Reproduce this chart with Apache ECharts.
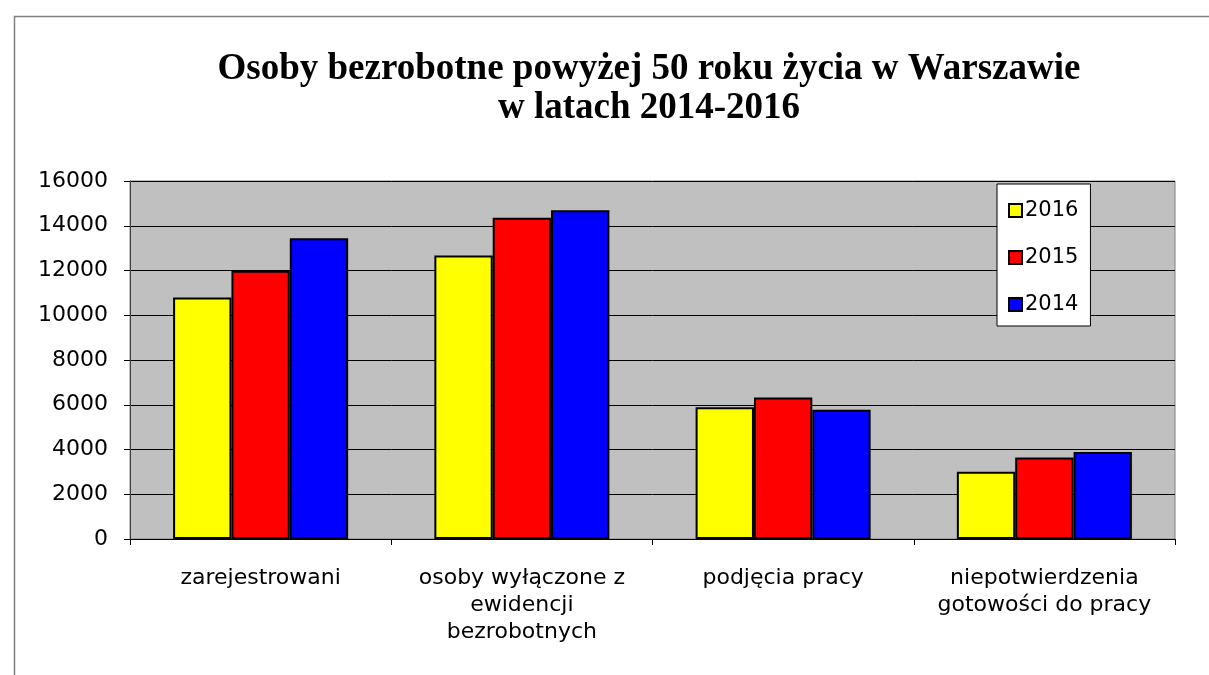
<!DOCTYPE html>
<html>
<head>
<meta charset="utf-8">
<script src="https://cdn.jsdelivr.net/npm/echarts@6/dist/echarts.min.js"></script>
<style>
  html, body { margin: 0; padding: 0; background: #fff; }
  #bezrobotniChart { width: 1209px; height: 675px; }
</style>
</head>
<body>
<div id="bezrobotniChart"></div>
<script>
// dane
const categories = [
  "zarejestrowani",
  "osoby wyłączone z\newidencji\nbezrobotnych",
  "podjęcia pracy",
  "niepotwierdzenia\ngotowości do pracy",
];
const years = ["2016", "2015", "2014"];
const values2016 = [10790, 12670, 5890, 3010];
const values2015 = [11990, 14360, 6320, 3640];
const values2014 = [13440, 14690, 5780, 3890];
const yTicks = [0, 2000, 4000, 6000, 8000, 10000, 12000, 14000, 16000];

const color = ["#FFFF00", "#FF0000", "#0000FF"];

let chart = echarts.init(document.getElementById("bezrobotniChart"));

const seriesValues = [values2016, values2015, values2014];
const series = years.map((name, index) => ({
  name,
  type: "bar",
  data: seriesValues[index],
  barGap: 0,
  barCategoryGap: "33%",
  itemStyle: {
    color: color[index],
    borderColor: "#000",
    borderWidth: 2,
  },
}));

const option = {
  animation: false,
  color,
  title: {
    text: "Osoby bezrobotne powyżej 50 roku życia w Warszawie\nw latach 2014-2016",
    left: 644,
    top: 45,
    textAlign: "center",
    textStyle: {
      fontFamily: "Liberation Serif",
      fontWeight: "bold",
      fontSize: 37,
      lineHeight: 39,
      color: "#000",
    },
  },
  legend: {
    orient: "vertical",
    left: 997,
    top: 184,
    itemWidth: 13,
    itemHeight: 13,
    itemGap: 26,
    icon: "rect",
    padding: [16, 12, 11, 11],
    backgroundColor: "#fff",
    borderColor: "#000",
    borderWidth: 1,
    itemStyle: {
      borderColor: "#000",
      borderWidth: 2,
    },
    textStyle: {
      fontFamily: "DejaVu Sans",
      fontSize: 21,
      color: "#000",
      padding: [0, 0, 0, -2],
    },
    data: years,
  },
  grid: {
    left: 130,
    right: 34,
    top: 181,
    bottom: 136,
    show: true,
    backgroundColor: "#C0C0C0",
    borderColor: "#808080",
    borderWidth: 1,
  },
  xAxis: {
    type: "category",
    data: categories,
    axisLine: { show: true, lineStyle: { color: "#000", width: 1 } },
    axisTick: { show: true, length: 6, lineStyle: { color: "#000" } },
    axisLabel: {
      margin: 26,
      interval: 0,
      fontFamily: "DejaVu Sans",
      fontSize: 22,
      lineHeight: 27,
      color: "#000",
    },
  },
  yAxis: {
    type: "value",
    min: yTicks[0],
    max: yTicks[yTicks.length - 1],
    interval: 2000,
    axisLine: { show: true, lineStyle: { color: "#404040", width: 1 } },
    axisTick: { show: true, length: 6, lineStyle: { color: "#000" } },
    axisLabel: {
      margin: 22,
      fontFamily: "DejaVu Sans",
      fontSize: 22,
      color: "#000",
      formatter: (v) => String(v),
    },
    splitLine: { show: true, lineStyle: { color: "#000", width: 1 } },
  },
  graphic: [
    {
      // ramka obszaru wykresu
      type: "rect",
      left: 12,
      top: 14,
      shape: { width: 1300, height: 800 },
      style: { fill: "none", stroke: "#808080", lineWidth: 1.5 },
      silent: true,
      z: -10,
    },
  ],
  series,
};

option && chart.setOption(option);
</script>
</body>
</html>
